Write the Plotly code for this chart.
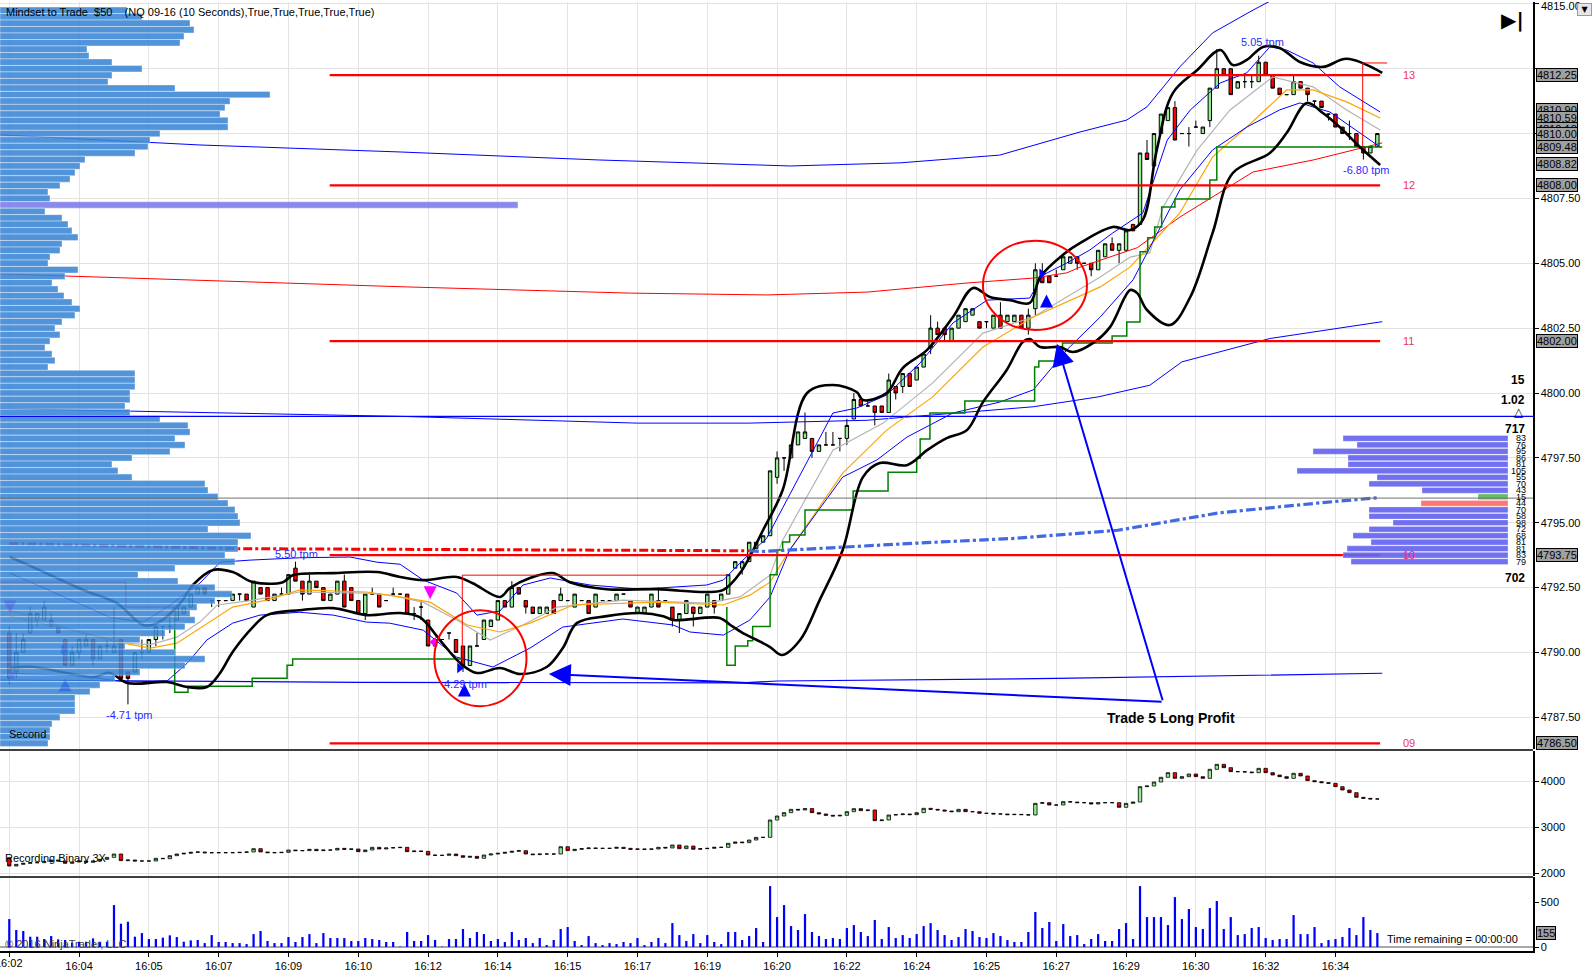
import plotly.graph_objects as go
import numpy as np

FONT = "Liberation Sans, Arial, sans-serif"

# ---------------- time axis (bar index, 10-second bars) ----------------
tick_index = list(range(0, 200, 10))
tick_labels = ["16:02", "16:04", "16:05", "16:07", "16:09", "16:10", "16:12", "16:14", "16:15", "16:17",
               "16:19", "16:20", "16:22", "16:24", "16:25", "16:27", "16:29", "16:30", "16:32", "16:34"]

# ---------------- NQ 09-16 10-second OHLC ----------------
bar_open = [4790.75, 4789.25, 4790.0, 4790.75, 4791.25, 4791.25, 4791.25, 4791.0, 4790.5, 4789.5,
            4790.0, 4790.25, 4790.5, 4789.75, 4790.25, 4790.0, 4790.5, 4789.25, 4789.25, 4790.0,
            4790.0, 4790.5, 4791.0, 4791.0, 4791.25, 4791.5, 4791.75, 4792.25, 4792.5, 4792.0,
            4792.0, 4792.0, 4792.0, 4792.25, 4792.25, 4791.75, 4792.5, 4792.5, 4792.0, 4792.25,
            4792.25, 4793.25, 4792.75, 4792.25, 4792.75, 4792.5, 4792.0, 4792.25, 4792.75, 4792.5,
            4792.0, 4791.5, 4792.25, 4792.25, 4792.0, 4792.25, 4792.25, 4792.25, 4791.5, 4791.75,
            4791.25, 4790.25, 4790.5, 4790.75, 4790.5, 4790.25, 4789.5, 4790.25, 4790.5, 4791.0,
            4791.25, 4792.0, 4791.75, 4792.5, 4792.0, 4791.75, 4791.5, 4791.5, 4792.0, 4792.0,
            4792.0, 4791.75, 4792.0, 4792.0, 4791.75, 4792.0, 4792.0, 4792.0, 4792.25, 4792.0,
            4791.5, 4791.5, 4791.75, 4792.0, 4792.0, 4791.75, 4791.25, 4791.5, 4791.75, 4791.5,
            4791.75, 4792.0, 4792.0, 4792.25, 4793.25, 4793.25, 4793.5, 4794.0, 4794.25, 4794.5,
            4796.75, 4797.5, 4797.5, 4798.0, 4798.25, 4798.25, 4797.75, 4798.0, 4798.0, 4798.25,
            4798.25, 4799.0, 4799.75, 4799.5, 4799.5, 4799.5, 4799.25, 4800.25, 4800.25, 4800.75,
            4800.5, 4801.0, 4801.75, 4802.5, 4802.5, 4802.0, 4802.5, 4802.75, 4803.0, 4802.75,
            4802.75, 4802.5, 4803.0, 4802.75, 4802.75, 4803.0, 4802.5, 4803.25, 4804.5, 4804.5,
            4804.5, 4804.75, 4805.0, 4805.25, 4805.0, 4805.0, 4804.75, 4805.25, 4805.75, 4805.5,
            4805.5, 4806.5, 4806.5, 4809.25, 4808.75, 4810.0, 4810.5, 4811.0, 4810.0, 4810.0,
            4810.25, 4810.0, 4810.5, 4811.75, 4812.5, 4812.5, 4811.75, 4812.0, 4812.0, 4812.0,
            4812.75, 4812.25, 4811.75, 4811.5, 4811.5, 4812.0, 4811.75, 4811.25, 4811.25, 4810.75,
            4810.75, 4810.25, 4810.0, 4810.0, 4809.5, 4809.25, 4809.5]
bar_high = [4791.0, 4790.75, 4790.75, 4791.75, 4791.5, 4792.0, 4791.5, 4791.0, 4790.5, 4790.25,
            4790.5, 4790.75, 4790.5, 4790.25, 4790.5, 4791.75, 4790.5, 4789.25, 4790.0, 4790.5,
            4790.5, 4791.0, 4791.0, 4791.5, 4791.75, 4791.75, 4792.25, 4792.5, 4792.5, 4792.0,
            4792.0, 4792.0, 4792.25, 4792.25, 4792.25, 4792.75, 4792.5, 4792.5, 4792.25, 4792.5,
            4793.0, 4793.5, 4792.75, 4793.0, 4792.75, 4792.5, 4792.25, 4792.75, 4793.0, 4792.5,
            4792.0, 4792.25, 4792.5, 4792.25, 4792.0, 4792.5, 4792.25, 4792.25, 4791.75, 4792.0,
            4791.25, 4790.5, 4790.5, 4790.75, 4790.5, 4790.25, 4790.25, 4790.75, 4791.25, 4791.25,
            4792.0, 4792.0, 4792.75, 4792.5, 4792.0, 4791.75, 4791.75, 4791.75, 4792.0, 4792.5,
            4792.0, 4792.25, 4792.0, 4792.0, 4792.25, 4792.0, 4792.0, 4792.25, 4792.25, 4792.0,
            4791.75, 4791.75, 4792.25, 4792.5, 4792.0, 4791.75, 4791.5, 4792.0, 4791.75, 4791.75,
            4792.25, 4792.0, 4792.25, 4793.0, 4793.5, 4793.5, 4794.25, 4794.25, 4794.5, 4797.0,
            4797.75, 4797.5, 4798.0, 4798.5, 4799.25, 4798.25, 4798.0, 4798.5, 4798.5, 4798.25,
            4799.0, 4800.0, 4799.75, 4799.75, 4799.5, 4799.5, 4800.75, 4800.25, 4800.75, 4800.75,
            4801.0, 4801.5, 4803.0, 4802.75, 4802.5, 4802.5, 4803.0, 4803.25, 4803.25, 4802.75,
            4802.75, 4803.0, 4803.5, 4803.0, 4803.0, 4803.0, 4803.25, 4805.0, 4805.0, 4804.5,
            4804.75, 4805.25, 4805.25, 4805.25, 4805.0, 4805.0, 4805.5, 4805.75, 4806.0, 4805.75,
            4806.25, 4806.5, 4809.25, 4809.75, 4810.0, 4810.75, 4811.0, 4811.25, 4810.0, 4810.25,
            4810.5, 4810.25, 4811.75, 4813.25, 4812.5, 4812.5, 4812.0, 4812.25, 4812.25, 4813.0,
            4812.75, 4812.25, 4811.75, 4811.5, 4812.25, 4812.0, 4811.75, 4811.25, 4811.25, 4810.75,
            4810.75, 4810.25, 4810.5, 4810.0, 4809.5, 4809.5, 4810.0]
bar_low = [4788.75, 4789.0, 4790.0, 4790.75, 4791.0, 4791.25, 4791.0, 4790.75, 4789.5, 4789.5,
           4789.75, 4790.25, 4789.5, 4789.75, 4790.0, 4790.0, 4789.0, 4788.0, 4789.25, 4789.75,
           4790.0, 4790.25, 4790.5, 4790.75, 4791.25, 4791.5, 4791.75, 4792.25, 4792.25, 4791.75,
           4791.75, 4792.0, 4792.0, 4792.0, 4792.0, 4791.75, 4792.25, 4792.0, 4792.0, 4792.25,
           4792.25, 4792.75, 4792.0, 4792.25, 4792.5, 4792.0, 4792.0, 4792.25, 4791.75, 4792.0,
           4791.5, 4791.25, 4792.25, 4791.75, 4792.0, 4792.25, 4792.25, 4791.5, 4791.25, 4791.25,
           4790.25, 4790.25, 4790.5, 4790.5, 4790.0, 4789.25, 4789.5, 4790.25, 4790.5, 4791.0,
           4791.25, 4791.75, 4791.75, 4792.25, 4791.5, 4791.5, 4791.5, 4791.5, 4791.5, 4792.0,
           4792.0, 4791.75, 4792.0, 4791.5, 4791.75, 4792.0, 4792.0, 4792.0, 4792.25, 4791.75,
           4791.5, 4791.5, 4791.75, 4791.75, 4792.0, 4791.0, 4790.75, 4791.5, 4791.0, 4791.5,
           4791.75, 4791.5, 4792.0, 4792.25, 4793.25, 4793.0, 4793.5, 4794.0, 4794.25, 4794.5,
           4796.5, 4797.0, 4797.5, 4798.0, 4798.25, 4797.5, 4797.75, 4798.0, 4798.0, 4797.75,
           4798.0, 4799.0, 4799.5, 4799.5, 4798.75, 4799.25, 4799.25, 4799.75, 4800.0, 4800.25,
           4800.5, 4801.0, 4801.5, 4802.25, 4802.0, 4802.0, 4802.5, 4802.75, 4803.0, 4802.5,
           4802.5, 4802.5, 4802.5, 4802.75, 4802.75, 4802.5, 4802.25, 4803.0, 4804.25, 4804.25,
           4804.5, 4804.75, 4805.0, 4804.75, 4805.0, 4804.5, 4804.75, 4805.25, 4805.5, 4805.0,
           4805.5, 4806.25, 4806.5, 4809.0, 4808.75, 4810.0, 4810.5, 4809.75, 4810.0, 4809.5,
           4810.25, 4810.0, 4810.25, 4811.75, 4812.25, 4811.5, 4811.75, 4811.75, 4811.75, 4812.0,
           4812.25, 4811.75, 4811.5, 4811.5, 4811.5, 4811.75, 4811.25, 4811.0, 4811.0, 4810.5,
           4810.25, 4810.0, 4809.75, 4809.5, 4809.0, 4809.25, 4809.5]
bar_close = [4789.0, 4790.0, 4790.5, 4791.5, 4791.5, 4791.75, 4791.0, 4790.75, 4789.5, 4790.0,
             4790.5, 4790.5, 4789.75, 4790.25, 4790.25, 4790.25, 4789.0, 4789.0, 4790.0, 4790.0,
             4790.5, 4791.0, 4791.0, 4791.0, 4791.75, 4791.75, 4792.25, 4792.5, 4792.25, 4792.0,
             4792.0, 4792.0, 4792.25, 4792.25, 4792.0, 4792.75, 4792.25, 4792.0, 4792.25, 4792.25,
             4793.0, 4792.75, 4792.25, 4792.75, 4792.5, 4792.0, 4792.25, 4792.75, 4791.75, 4792.0,
             4791.5, 4792.25, 4792.25, 4791.75, 4792.0, 4792.25, 4792.25, 4791.5, 4791.5, 4791.75,
             4790.25, 4790.5, 4790.5, 4790.75, 4790.0, 4789.5, 4790.25, 4790.25, 4791.25, 4791.25,
             4792.0, 4791.75, 4792.5, 4792.25, 4791.75, 4791.5, 4791.75, 4791.75, 4791.5, 4792.25,
             4792.0, 4792.25, 4792.0, 4791.5, 4792.25, 4792.0, 4792.0, 4792.25, 4792.25, 4791.75,
             4791.75, 4791.75, 4792.25, 4791.75, 4792.0, 4791.25, 4791.5, 4792.0, 4791.5, 4791.75,
             4792.25, 4791.75, 4792.25, 4793.0, 4793.5, 4793.5, 4794.25, 4794.25, 4794.5, 4797.0,
             4797.5, 4797.5, 4798.0, 4798.5, 4798.5, 4797.75, 4798.0, 4798.0, 4798.0, 4798.25,
             4798.75, 4799.75, 4799.5, 4799.5, 4799.25, 4799.25, 4800.5, 4800.0, 4800.75, 4800.25,
             4801.0, 4801.5, 4802.5, 4802.25, 4802.25, 4802.5, 4803.0, 4803.25, 4803.25, 4802.5,
             4802.75, 4803.0, 4802.5, 4803.0, 4803.0, 4802.5, 4803.0, 4804.75, 4804.25, 4804.25,
             4804.5, 4805.25, 4805.25, 4805.0, 4805.0, 4804.75, 4805.5, 4805.75, 4805.5, 4805.75,
             4806.25, 4806.25, 4809.25, 4809.0, 4810.0, 4810.75, 4811.0, 4809.75, 4810.0, 4810.0,
             4810.25, 4810.25, 4811.75, 4812.5, 4812.25, 4811.5, 4812.0, 4812.0, 4812.0, 4812.75,
             4812.25, 4811.75, 4811.5, 4811.5, 4812.0, 4811.75, 4811.5, 4811.25, 4811.0, 4810.75,
             4810.25, 4810.0, 4810.0, 4809.5, 4809.25, 4809.5, 4810.0]

# ---------------- Recording Binary 3X (indicator panel) ----------------
ind_first_open = 2333
ind_close = [2152, 2188, 2210, 2225, 2225, 2247, 2283, 2261, 2210, 2239, 2261, 2232, 2261, 2297, 2340, 2413,
             2268, 2283, 2261, 2261, 2261, 2319, 2312, 2377, 2413, 2428, 2449, 2457, 2440, 2442, 2442, 2442,
             2442, 2449, 2457, 2529, 2457, 2442, 2442, 2449, 2500, 2486, 2486, 2515, 2486, 2500, 2500, 2536,
             2515, 2522, 2464, 2500, 2558, 2522, 2544, 2551, 2558, 2464, 2478, 2471, 2391, 2384, 2384, 2413,
             2377, 2341, 2362, 2319, 2391, 2413, 2428, 2449, 2471, 2486, 2413, 2399, 2413, 2413, 2413, 2572,
             2486, 2515, 2529, 2544, 2536, 2536, 2536, 2558, 2536, 2515, 2522, 2515, 2522, 2558, 2544, 2609,
             2529, 2587, 2515, 2529, 2536, 2558, 2558, 2645, 2674, 2660, 2717, 2775, 2775, 3152, 3239, 3312,
             3384, 3370, 3400, 3312, 3283, 3254, 3239, 3254, 3333, 3399, 3355, 3370, 3138, 3152, 3261, 3268,
             3283, 3268, 3312, 3406, 3384, 3370, 3348, 3333, 3384, 3333, 3333, 3297, 3297, 3283, 3283, 3268,
             3275, 3268, 3261, 3514, 3529, 3478, 3478, 3551, 3543, 3529, 3529, 3500, 3529, 3529, 3529, 3428,
             3514, 3543, 3877, 3891, 3978, 4080, 4181, 4058, 4094, 4152, 4094, 4058, 4254, 4362, 4290, 4203,
             4203, 4196, 4181, 4275, 4181, 4130, 4094, 4058, 4167, 4109, 4007, 3986, 3964, 3949, 3877, 3804,
             3746, 3645, 3623, 3609, 3609]

# ---------------- volume ----------------
volume = [311, 189, 178, 115, 115, 89, 122, 85, 78, 48, 59, 59, 96, 59, 59, 466, 259, 281, 115, 155,
          89, 89, 104, 130, 111, 59, 74, 78, 44, 133, 56, 56, 44, 44, 33, 144, 178, 67, 44, 44,
          111, 56, 111, 144, 44, 155, 100, 100, 100, 67, 67, 100, 89, 78, 56, 56, 5, 167, 67, 67,
          133, 78, 5, 89, 89, 200, 100, 167, 144, 67, 89, 56, 167, 78, 100, 44, 100, 22, 78, 200,
          222, 67, 22, 122, 44, 22, 44, 33, 56, 44, 100, 22, 56, 100, 44, 266, 133, 67, 144, 44,
          133, 56, 33, 167, 167, 78, 122, 211, 56, 677, 333, 466, 233, 189, 366, 167, 122, 89, 100, 89,
          211, 244, 167, 122, 300, 89, 222, 100, 133, 100, 144, 233, 266, 189, 133, 78, 111, 200, 178, 111,
          100, 155, 122, 78, 56, 56, 167, 389, 211, 278, 67, 255, 122, 133, 33, 89, 144, 67, 67, 200,
          266, 89, 677, 333, 333, 333, 244, 555, 311, 422, 222, 200, 433, 511, 200, 333, 133, 144, 211, 222,
          100, 78, 89, 89, 355, 144, 144, 222, 44, 78, 89, 111, 211, 133, 333, 189, 155]

# ---------------- volume profile (left), rows of 0.25 from 4814.75 down ----------------
profile_top = 4814.75
profile_width = [127, 142, 190, 194, 184, 180, 87, 89, 112, 142, 112, 108, 175, 270, 230, 225, 220, 228, 228, 160,
                 150, 148, 135, 85, 80, 75, 70, 60, 48, 50, 518, 45, 62, 68, 72, 78, 62, 60, 50, 48,
                 78, 65, 52, 58, 64, 72, 80, 75, 62, 55, 60, 50, 45, 52, 55, 48, 135, 135, 135, 130,
                 130, 125, 130, 160, 188, 190, 175, 185, 170, 132, 112, 118, 132, 205, 208, 218, 228, 235, 238, 240,
                 208, 251, 238, 238, 225, 235, 175, 138, 178, 215, 232, 215, 197, 190, 195, 185, 165, 140, 125, 175,
                 205, 185, 140, 115, 100, 90, 75, 75, 75, 60, 52, 50, 50, 48]
profile_poc_price = 4807.25

# ---------------- right-side session ladder ----------------
ladder_price = [4798.25, 4798.0, 4797.75, 4797.5, 4797.25, 4797.0, 4796.75, 4796.5, 4796.25, 4796.0,
                4795.75, 4795.5, 4795.25, 4795.0, 4794.75, 4794.5, 4794.25, 4794.0, 4793.75, 4793.5]
ladder_width = [165, 151, 195, 160, 160, 211, 131, 139, 86, 30, 87, 139, 139, 115, 139, 155, 137, 161, 165, 157]
ladder_count = ["83", "76", "95", "86", "81", "105", "55", "70", "43", "15", "44", "70", "58", "98", "72", "68",
                "81", "81", "83", "79"]

# ---------------- indicator lines (bar index, price) ----------------
band_upper = [(0.1, 4793.68), (3.4, 4793.29), (10.6, 4792.41), (15.4, 4791.90), (19.2, 4791.06), (21.2, 4791.13),
              (24.5, 4791.90), (26.3, 4792.60), (29.2, 4793.18), (32, 4793.10), (34.9, 4792.71), (39.2, 4792.71),
              (40.6, 4792.98), (46.4, 4793.06), (52.7, 4793.10), (56, 4792.91), (59.3, 4792.79), (64.1, 4792.91),
              (66.4, 4792.67), (70.3, 4792.14), (71.7, 4792.48), (74.6, 4792.87), (77.9, 4793.06), (80.3, 4792.71),
              (85.6, 4792.44), (92.8, 4792.44), (99.9, 4792.33), (102.3, 4792.41), (104.7, 4793.06), (108, 4794.72),
              (110.8, 4796.26), (114.3, 4800.0), (118, 4800.31), (121.4, 4800.04), (122.3, 4799.73), (125.7, 4800.0),
              (128, 4800.96), (131.5, 4801.66), (135.2, 4802.93), (138.1, 4804.05), (140.5, 4803.70), (143.4, 4803.58),
              (146.2, 4803.47), (147.7, 4804.47), (151.5, 4805.44), (153.4, 4805.78), (158.1, 4806.40), (160.6, 4806.28),
              (162.4, 4806.67), (164.4, 4809.37), (166.7, 4811.56), (170.2, 4812.45), (173.5, 4813.22), (175.3, 4812.64),
              (177.3, 4812.84), (179.6, 4813.34), (182, 4813.30), (184.9, 4812.76), (188.2, 4812.57), (191.6, 4812.88),
              (196.7, 4812.34)]
band_lower = [(0.1, 4789.40), (3.4, 4789.44), (8.3, 4789.21), (12, 4789.05), (14.4, 4789.21), (16.9, 4788.82),
              (22.6, 4788.86), (25.5, 4788.67), (28.3, 4788.67), (30.2, 4789.21), (32, 4790.02), (34.9, 4790.98),
              (36.9, 4791.44), (41.6, 4791.63), (46.4, 4791.71), (51.2, 4791.44), (56, 4791.52), (58.8, 4791.36),
              (61.7, 4790.48), (64.6, 4789.59), (67, 4789.21), (70.3, 4789.40), (73.2, 4789.17), (77, 4789.44),
              (79.3, 4790.17), (81.3, 4791.13), (85.6, 4791.40), (90.4, 4791.52), (93.7, 4791.40), (95.1, 4791.25),
              (101.8, 4791.33), (103.3, 4791.06), (105.1, 4790.75), (107.1, 4790.48), (109, 4790.21), (110.7, 4789.90),
              (113.3, 4790.48), (116.1, 4792.02), (119.4, 4793.95), (122.3, 4796.76), (124.7, 4797.30), (128.6, 4797.22),
              (131.5, 4797.80), (134.3, 4798.26), (137.2, 4798.57), (139.5, 4799.65), (142.9, 4800.89), (145.2, 4801.97),
              (146.2, 4802.08), (147.7, 4801.77), (150.5, 4801.77), (152.4, 4801.58), (155.3, 4801.93), (157.7, 4802.54),
              (160.6, 4803.97), (161.6, 4803.85), (163, 4803.20), (166.3, 4802.62), (169.2, 4803.70), (172.4, 4806.17),
              (175.3, 4808.48), (180.6, 4809.25), (183, 4810.02), (185.9, 4811.18), (188.2, 4810.79), (190.6, 4810.25),
              (193.5, 4809.48), (196.4, 4808.79)]
env_upper = [(0.1, 4793.06), (14.4, 4791.36), (19.2, 4791.17), (22.6, 4791.75), (27.3, 4792.67), (30.2, 4793.48),
             (34.5, 4793.56), (41.6, 4793.65), (48.8, 4793.68), (52.7, 4793.48), (56, 4793.40), (59.3, 4792.79),
             (64.1, 4792.29), (67, 4791.44), (70.3, 4791.60), (73.6, 4792.60), (77.5, 4792.87), (83.2, 4792.60),
             (90.4, 4792.44), (99.9, 4792.60), (102.3, 4792.79), (105.1, 4793.56), (108.5, 4794.4), (118, 4799.23),
             (121.4, 4799.42), (125.7, 4799.92), (130.5, 4801.16), (135.2, 4802.70), (140.1, 4803.58), (146.2, 4803.66),
             (148.1, 4804.55), (151.5, 4805.01), (154.8, 4805.51), (158.1, 4806.17), (162.4, 4806.94), (165.9, 4809.75),
             (169.2, 4810.91), (173.5, 4811.95), (177.3, 4812.34), (180.6, 4813.34), (183, 4813.22), (186.8, 4812.72),
             (190.6, 4811.80), (196.4, 4810.83)]
env_lower = [(0.1, 4789.2), (10, 4789.1), (16.9, 4788.86), (22.6, 4788.90), (25.5, 4789.59), (28.3, 4790.48),
             (32, 4791.13), (35.9, 4791.44), (41.6, 4791.55), (46.4, 4791.44), (51.2, 4791.17), (54.5, 4791.13),
             (59.3, 4790.86), (64.1, 4789.82), (69.3, 4789.44), (74.6, 4790.17), (79.3, 4790.98), (87.9, 4791.29),
             (95.1, 4791.06), (97.5, 4790.79), (102.3, 4790.67), (106.1, 4791.25), (109, 4792.14), (111.8, 4793.95),
             (119.4, 4796.76), (124.3, 4797.42), (128.6, 4798.30), (135.2, 4799.23), (141.9, 4799.65), (146.7, 4800.12),
             (151.5, 4801.66), (156.3, 4802.93), (161, 4804.36), (163, 4805.40), (167.7, 4807.83), (172.4, 4809.37),
             (177.3, 4810.25), (182, 4810.91), (184.9, 4811.18), (189.2, 4810.83), (193.5, 4810.02), (196.4, 4809.48)]
sma_line = [(0.1, 4791.63), (8.3, 4790.94), (16.3, 4790.36), (20.2, 4790.30), (24, 4790.59), (27.3, 4791.17),
            (29.8, 4791.83), (34.5, 4792.0), (41.6, 4792.33), (51.2, 4792.29), (54.5, 4792.21), (59.3, 4791.94),
            (64.1, 4791.25), (68.9, 4790.48), (73.6, 4791.06), (78.5, 4791.75), (87.9, 4792.02), (99.9, 4791.90),
            (104.7, 4792.14), (109, 4792.98), (110.8, 4794.33), (118, 4797.80), (125.2, 4798.84), (132.3, 4800.39),
            (139.5, 4802.31), (146.7, 4802.93), (156.3, 4804.47), (160.6, 4805.24), (163.4, 4805.40), (165.3, 4807.17),
            (170.2, 4809.37), (174.9, 4810.91), (181, 4812.18), (186.8, 4811.80), (191.6, 4810.91), (196.4, 4810.14)]
ema_line = [(0.1, 4791.4), (8.3, 4790.9), (16.3, 4790.36), (20.2, 4790.17), (24, 4790.36), (27.3, 4790.94),
            (32, 4791.75), (36.9, 4792.02), (41.6, 4792.41), (51.2, 4792.33), (56, 4792.14), (60.3, 4791.94),
            (65.6, 4791.06), (70.3, 4790.79), (74.6, 4791.13), (80.8, 4791.83), (92.8, 4791.94), (102.3, 4791.83),
            (106.1, 4792.21), (109, 4792.71), (111.8, 4793.95), (119.4, 4796.91), (125.7, 4798.57), (132.3, 4799.85),
            (139.5, 4801.77), (146.7, 4802.93), (156.3, 4804.09), (160.6, 4804.86), (167.7, 4806.94), (172.4, 4809.10),
            (177.3, 4810.25), (183, 4811.68), (186.8, 4811.68), (191.6, 4811.22), (196.4, 4810.60)]
stop_steps_a = [(23.7, 4791.36), (23.7, 4788.47), (25.6, 4788.70), (34.8, 4789.01), (39.8, 4789.51), (40.6, 4789.75),
                (64.9, 4789.75)]
stop_steps_b = [(102.8, 4791.75), (102.8, 4789.51), (104, 4790.25), (105.8, 4790.45), (106.5, 4791.0), (109, 4793.0),
                (110, 4793.95), (110.8, 4794.26), (111.8, 4794.53), (114, 4795.49), (120.9, 4796.22), (125.9, 4796.95),
                (130, 4797.49), (130.5, 4798.23), (131.9, 4799.23), (136.9, 4799.69), (146.9, 4801.0), (147.5, 4801.23),
                (150.9, 4801.93), (158, 4802.20), (160.1, 4802.74), (162, 4805.44), (163.1, 4805.98), (164.1, 4806.40),
                (165.1, 4807.17), (167, 4807.48), (172, 4808.21), (173, 4809.48), (196.7, 4809.48)]
long_upper = [(-1.3, 4809.95), (27.3, 4809.56), (56, 4809.29), (84.6, 4808.98), (111.9, 4808.75), (127.6, 4808.87),
              (141.9, 4809.17), (153.4, 4810.06), (160.1, 4810.52), (163, 4811.03), (167.7, 4812.57), (172.4, 4813.88),
              (178.2, 4814.76), (180.6, 4815.1)]
long_mid = [(-1.3, 4804.59), (56.8, 4804.09), (89, 4803.85), (108.5, 4803.78), (122.9, 4803.89), (137.2, 4804.24),
            (146.7, 4804.43), (151.5, 4804.63), (153.4, 4804.85), (161.6, 4805.60), (167.7, 4806.78), (173.5, 4807.75),
            (178.2, 4808.52), (186.8, 4808.98), (196.7, 4809.64)]
long_lower = [(-1.3, 4799.4), (56, 4799.1), (90, 4798.84), (106, 4798.84), (122.9, 4798.95), (146.7, 4799.47),
              (156, 4799.85), (163.4, 4800.3), (168, 4801.2), (180.6, 4802.1), (196.7, 4802.75)]
floor_line = [(-1.3, 4788.94), (50, 4788.85), (105, 4788.83), (110, 4788.9), (150, 4789.0), (196.7, 4789.2)]
vwap_red = [(0, 4794.2), (33, 4794.0), (106, 4793.92)]
vwap_blue = [(106, 4793.92), (107.8, 4793.89), (129.7, 4794.21), (144.2, 4794.40), (158.8, 4794.71),
             (173.3, 4795.38), (187.9, 4795.77), (196.3, 4795.97)]

# level lines
level_prices = [4812.25, 4808.00, 4802.00, 4793.75, 4786.50]
level_names = ["13", "12", "11", "10", "09"]
level_start, level_end = 45.9, 196.4
gray_line_price = 4795.95
blue_line_price = 4799.1

# trade boxes
trade_box_a = [(-1.3, 4792.71), (16.7, 4792.71), (16.7, 4791.75), (24.5, 4791.75)]
trade_box_b = [(64.9, 4789.75), (64.9, 4792.98), (103, 4792.98)]
trade_box_c = [(193.9, 4809.5), (193.9, 4812.72), (197.4, 4812.72)]

# price axis
price_ticks = [4787.5, 4790.0, 4792.5, 4795.0, 4797.5, 4800.0, 4802.5, 4805.0, 4807.5, 4810.0, 4812.5, 4815.0]
price_tick_text = ["4787.50", "4790.00", "4792.50", "4795.00", "4797.50", "4800.00", "4802.50", "4805.00",
                   "4807.50", "", "", ""]
top_price_label = "4815.00"
axis_markers = [4812.25, 4810.90, 4810.59, 4810.18, 4810.00, 4809.48, 4808.82, 4808.00, 4802.00, 4793.75, 4786.50]

# ---------------- figure geometry ----------------
W, H = 1593, 980
ML, MR, MT, MB = 0, 60, 2, 29
PH = H - MT - MB
PW = W - ML - MR


def py(ypix):
    return (H - MB - ypix) / PH


def px(xpix):
    return xpix / PW


def unz(pts):
    return [p[0] for p in pts], [p[1] for p in pts]


xr = [-1.33, 218.3]
n = len(bar_close)
idx = list(range(n))

fig = go.Figure()

# main candles
fig.add_trace(go.Candlestick(
    x=idx, open=bar_open, high=bar_high, low=bar_low, close=bar_close, xaxis="x", yaxis="y",
    increasing=dict(fillcolor="#90EE90", line=dict(color="black", width=1)),
    decreasing=dict(fillcolor="#FF0000", line=dict(color="black", width=1)),
    whiskerwidth=0, showlegend=False, hoverinfo="skip"))


def line(pts, color, width, dash=None, shape="linear"):
    x, y = unz(pts)
    fig.add_trace(go.Scatter(x=x, y=y, mode="lines", xaxis="x", yaxis="y", hoverinfo="skip", showlegend=False,
                             line=dict(color=color, width=width, dash=dash, shape=shape)))


line(long_upper, "#0000FF", 1)
line(long_mid, "#FF0000", 1)
line(long_lower, "#0000FF", 1)
line(floor_line, "#0000FF", 1.2)
line(sma_line, "#B4B4B4", 1.2)
line(ema_line, "#FFA500", 1.2)
line(env_upper, "#0000FF", 1)
line(env_lower, "#0000FF", 1)
line(stop_steps_a, "#008000", 1.5, shape="hv")
line(stop_steps_b, "#008000", 1.5, shape="hv")
line(band_upper, "#000000", 2.6, shape="spline")
line(band_lower, "#000000", 2.6, shape="spline")
line(vwap_red, "#FF0000", 3, dash="dashdot")
line(vwap_blue, "#4169E1", 3.2, dash="dashdot")
line(trade_box_a, "#FF0000", 1)
line(trade_box_b, "#FF0000", 1)
line(trade_box_c, "#FF0000", 1)
for lp in level_prices:
    line([(level_start, lp), (level_end, lp)], "#FF0000", 2.2)

# trade markers
fig.add_trace(go.Scatter(x=[8.0, 65.2, 148.6], y=[4789.0, 4788.8, 4803.8], mode="markers", xaxis="x", yaxis="y",
                         marker=dict(symbol="arrow-up", size=13, color="#0000FF"), hoverinfo="skip", showlegend=False))
fig.add_trace(go.Scatter(x=[7.8, 64.5, 147.9], y=[4790.1, 4789.4, 4804.6], mode="markers", xaxis="x", yaxis="y",
                         marker=dict(symbol="triangle-right", size=9, color="#0000FF"), hoverinfo="skip", showlegend=False))
fig.add_trace(go.Scatter(x=[0.1, 60.3], y=[4791.5, 4792.05], mode="markers", xaxis="x", yaxis="y",
                         marker=dict(symbol="arrow-down", size=13, color="#FF00FF"), hoverinfo="skip", showlegend=False))
fig.add_trace(go.Scatter(x=[0.4, 60.8], y=[4789.1, 4790.4], mode="markers", xaxis="x", yaxis="y",
                         marker=dict(symbol="triangle-left", size=9, color="#FF00FF"), hoverinfo="skip", showlegend=False))

# volume profile (overlay)
prof_price = [profile_top - 0.25 * k for k in range(len(profile_width))]
prof_color = ["#7B7BEB" if abs(p - profile_poc_price) < 1e-6 else "#3A86D6" for p in prof_price]
fig.add_trace(go.Bar(x=profile_width, y=prof_price, orientation="h", xaxis="x4", yaxis="y", width=0.25,
                     marker=dict(color=prof_color, line=dict(color="rgba(255,255,255,0.55)", width=0.7)),
                     opacity=0.88, hoverinfo="skip", showlegend=False))

# right ladder (overlay)
lad_color = []
for p in ladder_price:
    if p == 4796.0:
        lad_color.append("#5CB85C")
    elif p == 4795.75:
        lad_color.append("#FF6B6B")
    else:
        lad_color.append("#6464F0")
fig.add_trace(go.Bar(x=ladder_width, y=ladder_price, orientation="h", xaxis="x5", yaxis="y", width=0.22,
                     marker=dict(color=lad_color, line=dict(color="rgba(255,255,255,0.5)", width=0.6)),
                     opacity=0.92, hoverinfo="skip", showlegend=False))

# indicator candles
ind_open = [ind_first_open] + ind_close[:-1]
ind_high = [max(o, c) for o, c in zip(ind_open, ind_close)]
ind_low = [min(o, c) for o, c in zip(ind_open, ind_close)]
fig.add_trace(go.Candlestick(
    x=idx, open=ind_open, high=ind_high, low=ind_low, close=ind_close, xaxis="x2", yaxis="y2",
    increasing=dict(fillcolor="#90EE90", line=dict(color="black", width=0.8)),
    decreasing=dict(fillcolor="#FF0000", line=dict(color="black", width=0.8)),
    whiskerwidth=0, showlegend=False, hoverinfo="skip"))

# volume bars
fig.add_trace(go.Bar(x=idx, y=volume, xaxis="x3", yaxis="y3", width=0.32, marker=dict(color="#0000FF", line=dict(width=0)),
                     hoverinfo="skip", showlegend=False))

grid = "#E3E3E3"
axfont = dict(family=FONT, size=11, color="black")
xcommon = dict(range=xr, tickvals=tick_index, showgrid=True, gridcolor=grid, gridwidth=1, zeroline=False,
               rangeslider=dict(visible=False), fixedrange=True, automargin=False)

layout = dict(
    width=W, height=H, autosize=False, margin=dict(l=ML, r=MR, t=MT, b=MB, autoexpand=False),
    paper_bgcolor="white", plot_bgcolor="white", barmode="overlay", showlegend=False,
    font=dict(family=FONT, size=11, color="black"),
    xaxis=dict(domain=[0, 1], anchor="y", showticklabels=False, **xcommon),
    xaxis2=dict(domain=[0, 1], anchor="y2", showticklabels=False, **xcommon),
    xaxis3=dict(domain=[0, 1], anchor="y3", ticktext=[""] + tick_labels[1:], ticks="outside", ticklen=4,
                tickcolor="black", showline=True, linecolor="black", linewidth=1.5, tickfont=axfont, **xcommon),
    xaxis4=dict(overlaying="x", anchor="y", range=[0, PW], visible=False, fixedrange=True),
    xaxis5=dict(overlaying="x", anchor="y", range=[1508, 1508 - PW], visible=False, fixedrange=True),
    yaxis=dict(domain=[py(749), 1.0], anchor="x", side="right", range=[4786.28, 4815.07],
               tickvals=price_ticks, ticktext=price_tick_text, ticks="outside", ticklen=4,
               tickcolor="black", showline=True, linecolor="black", linewidth=1.5, showgrid=True, gridcolor=grid,
               zeroline=False, tickfont=axfont, fixedrange=True, automargin=False),
    yaxis2=dict(domain=[py(876), py(751)], anchor="x2", side="right", range=[1935, 4652],
                tickvals=[2000, 3000, 4000], ticks="outside", ticklen=4, tickcolor="black", showline=True,
                linecolor="black", linewidth=1.5, showgrid=True, gridcolor=grid, zeroline=False, tickfont=axfont,
                fixedrange=True, automargin=False),
    yaxis3=dict(domain=[0, py(877)], anchor="x3", side="right", range=[-44, 778],
                tickvals=[0, 500], ticks="outside", ticklen=4, tickcolor="black", showline=True, linecolor="black",
                linewidth=1.5, showgrid=False, zeroline=True, zerolinecolor="#A8A8A8", zerolinewidth=1.5,
                tickfont=axfont, fixedrange=True, automargin=False),
)
fig.update_layout(**layout)

shapes = []
# panel separators
for yp in (750, 877):
    shapes.append(dict(type="line", xref="paper", yref="paper", x0=0, x1=1, y0=py(yp), y1=py(yp),
                       line=dict(color="black", width=1.5), layer="above"))
# full-width horizontal lines
shapes.append(dict(type="line", xref="paper", yref="y", x0=0, x1=1, y0=gray_line_price, y1=gray_line_price,
                   line=dict(color="#707070", width=1), layer="above"))
shapes.append(dict(type="line", xref="paper", yref="y", x0=0, x1=1, y0=blue_line_price, y1=blue_line_price,
                   line=dict(color="#0000FF", width=1.3), layer="above"))
# red circles
shapes.append(dict(type="circle", xref="x", yref="y", x0=60.9, x1=74.1, y0=4787.93, y1=4791.63,
                   line=dict(color="#FF0000", width=2), layer="above"))
shapes.append(dict(type="circle", xref="x", yref="y", x0=139.5, x1=154.4, y0=4802.43, y1=4805.87,
                   line=dict(color="#FF0000", width=2), layer="above"))
fig.update_layout(shapes=shapes)

ann = []
tf = dict(family=FONT, size=11, color="black")
ann.append(dict(xref="paper", yref="paper", x=px(4), y=py(12), xanchor="left", yanchor="middle", showarrow=False,
                text="Mindset to Trade  $50    (NQ 09-16 (10 Seconds),True,True,True,True,True)", font=tf))
ann.append(dict(xref="paper", yref="paper", x=px(7), y=py(734), xanchor="left", yanchor="middle", showarrow=False,
                text="Second", font=tf))
ann.append(dict(xref="paper", yref="paper", x=px(3), y=py(858), xanchor="left", yanchor="middle", showarrow=False,
                text="Recording Binary 3X", font=tf))
ann.append(dict(xref="paper", yref="paper", x=px(3), y=py(944), xanchor="left", yanchor="middle", showarrow=False,
                text="© 2016 NinjaTrader, LLC", font=dict(family=FONT, size=11, color="#404040")))
ann.append(dict(xref="paper", yref="paper", x=px(1385), y=py(939), xanchor="left", yanchor="middle",
                showarrow=False, text="Time remaining = 00:00:00", font=tf))
# first time label, partly beyond the left edge as in the original
ann.append(dict(xref="x3", yref="paper", x=tick_index[0], y=py(963), xanchor="center", yanchor="middle",
                showarrow=False, text=tick_labels[0], font=axfont))
# top price label, partly hidden by the dropdown button
ann.append(dict(xref="paper", yref="paper", x=1.0, xshift=6, y=py(6), xanchor="left", yanchor="middle",
                showarrow=False, text=top_price_label, font=axfont))
ann.append(dict(xref="paper", yref="paper", x=px(1512), y=py(20), xanchor="center", yanchor="middle",
                showarrow=False, text="<b>▶|</b>", font=dict(family="DejaVu Sans", size=20, color="black")))
ann.append(dict(xref="paper", yref="paper", x=px(1584), y=py(9), xanchor="center", yanchor="middle",
                showarrow=False, text=" ▼ ", bgcolor="#E6E6E6", bordercolor="#9A9A9A", borderwidth=1, borderpad=1,
                font=dict(family="DejaVu Sans", size=8, color="black")))
# level labels
for lp, nm in zip(level_prices, level_names):
    ann.append(dict(x=200.5, y=lp, xref="x", yref="y", showarrow=False, text=nm, xanchor="center",
                    yanchor="middle", font=dict(family=FONT, size=11, color="#E8365D")))
# tpm labels
for tx, ty, tt in [(41.2, 4793.81, "5.50 tpm"), (17.1, 4787.6, "-4.71 tpm"), (65.3, 4788.8, "4.29 tpm"),
                   (179.5, 4813.54, "5.05 tpm"), (194.4, 4808.61, "-6.80 tpm")]:
    ann.append(dict(x=tx, y=ty, xref="x", yref="y", showarrow=False, text=tt, xanchor="center", yanchor="middle",
                    font=dict(family=FONT, size=11, color="#2B2BFF")))
# trade arrows + label
for hx, hy in [(150.1, 4801.9), (77.3, 4789.17)]:
    ann.append(dict(x=hx, y=hy, ax=165.3, ay=4788.1, xref="x", yref="y", axref="x", ayref="y", text="",
                    showarrow=True, arrowhead=2, arrowsize=2.2, arrowwidth=2, arrowcolor="#0000FF"))
ann.append(dict(x=166.4, y=4787.47, xref="x", yref="y", showarrow=False, text="<b>Trade 5 Long Profit</b>",
                xanchor="center", yanchor="middle", font=dict(family=FONT, size=14, color="black")))
# right-side stats
for yp_, txt in [(4800.5, "<b>15</b>"), (4799.73, "<b>1.02</b>"), (4798.6, "<b>717</b>"), (4792.87, "<b>702</b>")]:
    ann.append(dict(xref="paper", yref="y", x=px(1527), y=yp_, xanchor="right", yanchor="middle",
                    showarrow=False, text=txt, font=dict(family=FONT, size=12, color="black")))
ann.append(dict(xref="paper", yref="y", x=px(1519), y=4799.27, xanchor="center", yanchor="middle",
                showarrow=False, text="△", font=dict(family="DejaVu Sans", size=12, color="black")))
for p, c in zip(ladder_price, ladder_count):
    ann.append(dict(xref="paper", yref="y", x=px(1528), y=p, xanchor="right", yanchor="middle",
                    showarrow=False, text=c, font=dict(family=FONT, size=9, color="black")))
# axis price markers
for p in axis_markers:
    ann.append(dict(xref="paper", yref="y", x=1.0, xshift=3, y=p, xanchor="left", yanchor="middle",
                    showarrow=False, text="%.2f" % p, bgcolor="#A0A0A0", bordercolor="black", borderwidth=1,
                    borderpad=0, font=dict(family=FONT, size=11, color="black")))
ann.append(dict(xref="paper", yref="y3", x=1.0, xshift=3, y=155, xanchor="left", yanchor="middle",
                showarrow=False, text="155", bgcolor="#A0A0A0", bordercolor="black", borderwidth=1, borderpad=0,
                font=dict(family=FONT, size=11, color="black")))
fig.update_layout(annotations=ann)

fig.write_html("out.html", config={"displayModeBar": False, "staticPlot": True},
               post_script="document.body.style.margin='0';document.body.style.overflow='hidden';")
